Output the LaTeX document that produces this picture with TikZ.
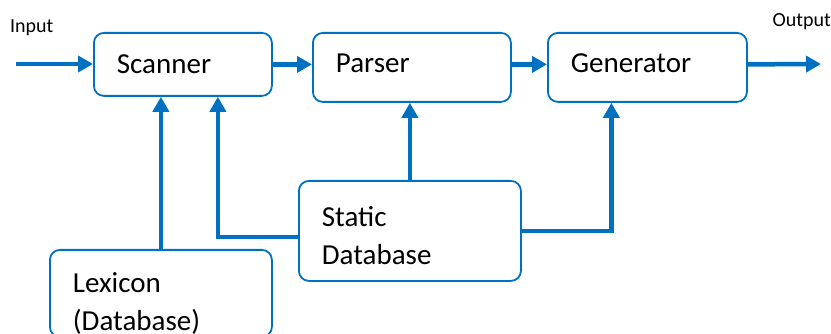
\documentclass[tikz,border=0pt]{standalone}
\usepackage{fontspec}
\setmainfont{Carlito}
\usetikzlibrary{arrows.meta}
\definecolor{flow}{HTML}{0070C0}
\tikzset{
	blk/.style={draw=flow,line width=1.8pt,rounded corners=10pt,anchor=north west,align=left,inner xsep=23pt,inner ysep=0pt,font=\fontsize{29}{38}\selectfont},
	wire/.style={draw=flow,line width=4.5pt},
	feed/.style={wire,-{Triangle[length=15pt,width=16pt]}},
}
\begin{document}
\begin{tikzpicture}[x=1pt,y=-1pt]
	\useasboundingbox(0,0)rectangle(831,334);
	\node[blk,text width=132pt,minimum height=63pt](scan)at(93,32){Scanner};
	\node[blk,text width=152pt,minimum height=69pt,text depth=9pt](parse)at(312,32){Parser};
	\node[blk,text width=153pt,minimum height=69pt,text depth=9pt](gen)at(547,32){Generator};
	\node[blk,text width=176pt,minimum height=100pt,text height=30pt](stat)at(298,180){Static\\Database};
	\node[blk,text width=176pt,minimum height=87pt,text height=41pt](lex)at(49,249){Lexicon\\(Database)};
	\node[anchor=west,inner sep=0pt,font=\fontsize{20}{24}\selectfont](inlbl)at(10,28){Input};
	\node[anchor=east,inner sep=0pt,font=\fontsize{20}{24}\selectfont](outlbl)at(831,22){Output};
	\coordinate(in)at(16,64);
	\coordinate(out)at(821,64);
	% main line
	\draw[feed](in)--(in-|scan.west);
	\draw[feed](scan.east)--(scan.east-|parse.west);
	\draw[feed](scan.east-|parse.east)--(scan.east-|gen.west);
	\draw[feed](scan.east-|gen.east)--(out);
	% databases
	\draw[feed](lex.north)--(lex.north|-scan.south);
	\draw[feed]([yshift=-6pt]stat.west)-|([xshift=35pt]scan.south);
	\draw[feed](stat.north)--(stat.north|-parse.south);
	\draw[feed](stat.east)-|([xshift=-36pt]gen.south);
\end{tikzpicture}
\end{document}
